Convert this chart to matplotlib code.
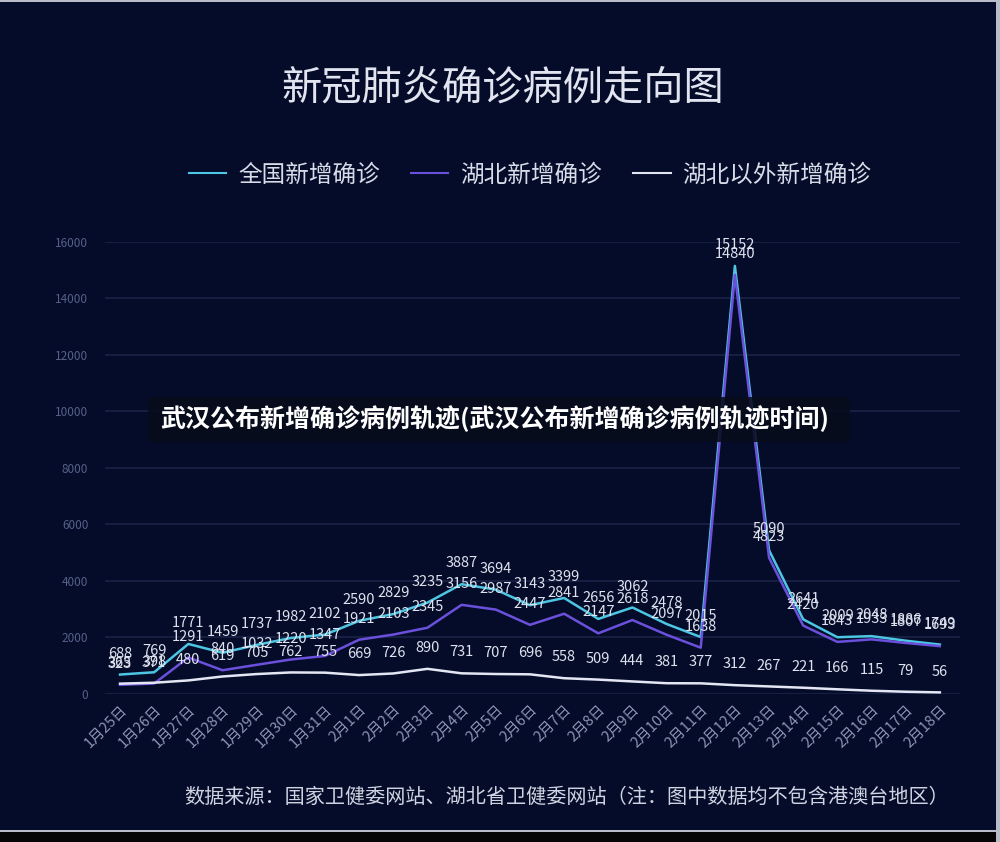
import matplotlib
matplotlib.use("Agg")
import matplotlib.pyplot as plt
from matplotlib.patches import Rectangle

plt.rcParams['font.family'] = ['Noto Sans CJK SC', 'DejaVu Sans']

# data
dates = ['1月25日', '1月26日', '1月27日', '1月28日', '1月29日', '1月30日', '1月31日',
         '2月1日', '2月2日', '2月3日', '2月4日', '2月5日', '2月6日', '2月7日',
         '2月8日', '2月9日', '2月10日', '2月11日', '2月12日', '2月13日', '2月14日',
         '2月15日', '2月16日', '2月17日', '2月18日']
national = [688, 769, 1771, 1459, 1737, 1982, 2102, 2590, 2829, 3235, 3887, 3694, 3143,
            3399, 2656, 3062, 2478, 2015, 15152, 5090, 2641, 2009, 2048, 1886, 1749]
hubei = [323, 371, 1291, 840, 1032, 1220, 1347, 1921, 2103, 2345, 3156, 2987, 2447,
         2841, 2147, 2618, 2097, 1638, 14840, 4823, 2420, 1843, 1933, 1807, 1693]
outside = [365, 398, 480, 619, 705, 762, 755, 669, 726, 890, 731, 707, 696,
           558, 509, 444, 381, 377, 312, 267, 221, 166, 115, 79, 56]
series_names = ['全国新增确诊', '湖北新增确诊', '湖北以外新增确诊']

BG = '#040c29'
colors = ['#4cc6e2', '#6b50dc', '#e4e6f4']

fig = plt.figure(figsize=(10, 8.42), dpi=100, facecolor=BG)
ax = fig.add_axes([0.105, 0.1758, 0.855, 0.5368])
ax.set_facecolor(BG)

x = list(range(len(dates)))
for vals, c, name in zip([national, hubei, outside], colors, series_names):
    ax.plot(x, vals, color=c, lw=1.8, label=name, zorder=3)
    for xi, v in zip(x, vals):
        ax.annotate(str(v), (xi, v), xytext=(0, 15), textcoords='offset points',
                    ha='center', va='center', fontsize=10.5, color='#dfe2ee',
                    zorder=4)

ax.set_xlim(-0.44, 24.59)
ax.set_ylim(0, 16000)
ax.set_yticks(range(0, 16001, 2000))
ax.set_xticks(x)
ax.set_xticklabels(dates, rotation=45, ha='right', rotation_mode='anchor',
                   fontsize=10.5, color='#8d95b8')
ax.tick_params(axis='y', colors='#56608a', labelsize=8.5, length=0, pad=12)
ax.tick_params(axis='x', length=0, pad=6)
ax.grid(axis='y', color='#1a2448', lw=1.2)
ax.set_axisbelow(True)
for s in ax.spines.values():
    s.set_visible(False)

fig.text(0.503, 1 - 88 / 842, '新冠肺炎确诊病例走向图', ha='center', va='center',
         fontsize=29, color='#e2e5f0')

leg = fig.legend(loc='center', bbox_to_anchor=(0.53, 1 - 175 / 842), ncol=3,
                 frameon=False, fontsize=17, labelcolor='#d8dbe8', handlelength=1.6,
                 handletextpad=0.5, columnspacing=1.3)
for h in leg.get_lines():
    h.set_linewidth(1.5)

fig.text(0.567, 1 - 797 / 842,
         '数据来源：国家卫健委网站、湖北省卫健委网站（注：图中数据均不包含港澳台地区）',
         ha='center', va='center', fontsize=14.5, color='#d0d4e2')

# overlay banner
fig.patches.append(Rectangle((0.148, 1 - 442 / 842), 0.702, 45 / 842,
                             transform=fig.transFigure, facecolor='#080d1c',
                             alpha=0.88, zorder=5))
fig.text(0.495, 1 - 419 / 842, '武汉公布新增确诊病例轨迹(武汉公布新增确诊病例轨迹时间)',
         ha='center', va='center', fontsize=18, fontweight='bold', color='white',
         zorder=6)

# photo frame edges
fig.patches.append(Rectangle((0, 0), 1, 10 / 842, transform=fig.transFigure,
                             facecolor='#050505', zorder=7))
fig.patches.append(Rectangle((0, 10 / 842), 1, 2 / 842, transform=fig.transFigure,
                             facecolor='#b8bcc8', zorder=7))
fig.patches.append(Rectangle((0.996, 0), 0.004, 1, transform=fig.transFigure,
                             facecolor='#b8bcc8', zorder=7))
fig.patches.append(Rectangle((0, 0.9975), 1, 0.0025, transform=fig.transFigure,
                             facecolor='#b8bcc8', zorder=7))

fig.savefig('out.png', dpi=100, facecolor=BG)
